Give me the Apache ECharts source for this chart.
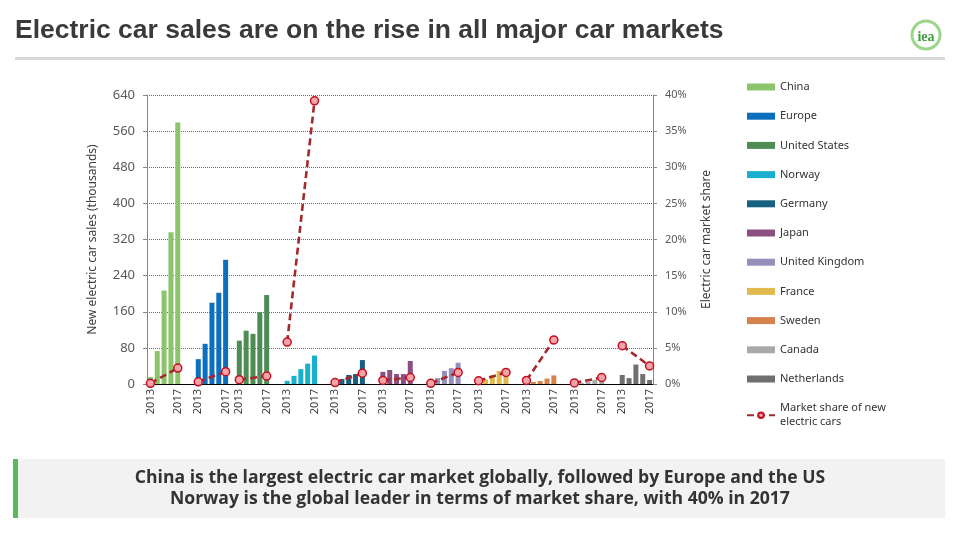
<!DOCTYPE html>
<html><head><meta charset="utf-8">
<script src="https://cdn.jsdelivr.net/npm/echarts@6/dist/echarts.min.js"></script>
<style>html,body{margin:0;padding:0;background:#fff}#c{width:960px;height:540px}</style>
</head><body><div id="c"></div>
<script>
// ---------- data ----------
const countries = ['China','Europe','United States','Norway','Germany','Japan','United Kingdom','France','Sweden','Canada','Netherlands'];
const years = ['2013','2014','2015','2016','2017'];
const shareYears = ['2013','2017'];
// new electric car sales (thousands), 2013..2017
const salesChina       = [15, 73, 207, 336, 579];
const salesEurope      = [55, 89, 180, 202, 275];
const salesUS          = [96, 118, 111, 159, 197];
const salesNorway      = [7, 18, 33, 45, 63];
const salesGermany     = [6, 11, 20, 22, 53];
const salesJapan       = [27, 31, 22, 22, 51];
const salesUK          = [4, 13, 29, 35, 47];
const salesFrance      = [9, 10, 19, 29, 31];
const salesSweden      = [1.5, 4.6, 6.6, 12, 19];
const salesCanada      = [1.7, 2.6, 5, 9, 15];
const salesNetherlands = [20, 13, 43, 22, 9];
// market share (%), 2013 and 2017
const shareChina       = [0.1, 2.2];
const shareEurope      = [0.3, 1.7];
const shareUS          = [0.6, 1.1];
const shareNorway      = [5.8, 39.2];
const shareGermany     = [0.2, 1.5];
const shareJapan       = [0.5, 0.9];
const shareUK          = [0.1, 1.6];
const shareFrance      = [0.45, 1.6];
const shareSweden      = [0.5, 6.1];
const shareCanada      = [0.15, 0.9];
const shareNetherlands = [5.3, 2.5];
const shareName = 'Market share of new electric cars';

// ---------- layout / style ----------
const gapAfter = [2,1,2,2,2,2,2,2,2,2];
const colors = ['#8cc46b','#0b6fbd','#4e8b55','#1aaecf','#17607f','#8b4f80','#9490bb','#e2b94f','#d5824f','#a9a9a9','#6f6f6f'];
const allSales = [salesChina,salesEurope,salesUS,salesNorway,salesGermany,salesJapan,salesUK,salesFrance,salesSweden,salesCanada,salesNetherlands];
const allShare = [shareChina,shareEurope,shareUS,shareNorway,shareGermany,shareJapan,shareUK,shareFrance,shareSweden,shareCanada,shareNetherlands];

const categories = [];
countries.forEach((c, i) => {
  years.forEach(y => categories.push(c + '|' + y));
  if (i < gapAfter.length) for (let k = 0; k < gapAfter[i]; k++) categories.push('gap' + i + '_' + k);
});

const font = 'Noto Sans';
const series = [];
countries.forEach((c, i) => {
  series.push({
    name: c, type: 'bar', stack: 'sales', barWidth: 5,
    itemStyle: { color: colors[i] },
    data: categories.map(k => {
      const p = k.split('|');
      return p[0] === c ? allSales[i][years.indexOf(p[1])] : null;
    })
  });
});
countries.forEach((c, i) => {
  series.push({
    name: shareName, type: 'line', yAxisIndex: 1, connectNulls: true, z: 5,
    symbol: 'circle', symbolSize: 8,
    lineStyle: { color: '#a3292f', width: 2.6, type: [7, 4] },
    itemStyle: { color: '#f5a3aa', borderColor: '#c0101e', borderWidth: 1.5 },
    data: categories.map(k => {
      const p = k.split('|');
      if (p[0] !== c) return null;
      const j = shareYears.indexOf(p[1]);
      return j >= 0 ? allShare[i][j] : null;
    })
  });
});

const chart = echarts.init(document.getElementById('c'));
chart.setOption({
  animation: false,
  backgroundColor: '#ffffff',
  title: {
    text: 'Electric car sales are on the rise in all major car markets',
    left: 15, top: 17, padding: 0,
    textStyle: { fontFamily: 'Liberation Sans', fontSize: 26.5, fontWeight: 'bold', color: '#3a3a3a' }
  },
  grid: { left: 147, right: 307, top: 95, bottom: 156 },
  legend: {
    orient: 'vertical', left: 741, top: 75,
    itemWidth: 28, itemHeight: 7, itemGap: 15.2,
    data: countries.map(c => ({ name: c, icon: 'rect' })).concat([{ name: shareName }]),
    formatter: n => n === shareName ? 'Market share of new\nelectric cars' : n,
    textStyle: { fontFamily: font, fontSize: 11, color: '#333', lineHeight: 14 }
  },
  xAxis: {
    type: 'category', data: categories,
    axisLine: { lineStyle: { color: '#000', width: 1 } },
    axisTick: { show: false },
    axisLabel: {
      interval: 0, rotate: 90, margin: 5,
      fontFamily: font, fontSize: 11, color: '#404040',
      formatter: v => { const p = v.split('|'); return (p[1] === '2013' || p[1] === '2017') ? p[1] : ''; }
    }
  },
  yAxis: [{
    type: 'value', min: 0, max: 640, interval: 80,
    name: 'New electric car sales (thousands)', nameLocation: 'middle', nameGap: 48, nameRotate: 90,
    nameTextStyle: { fontFamily: font, fontSize: 12, color: '#404040' },
    axisLine: { show: true, lineStyle: { color: '#868686' } },
    axisTick: { show: true, length: 4, lineStyle: { color: '#868686' } },
    axisLabel: { fontFamily: font, fontSize: 13, color: '#595959', margin: 12 },
    splitLine: { lineStyle: { color: '#6a6a6a', type: 'dotted', width: 1 } }
  }, {
    type: 'value', min: 0, max: 40, interval: 5, position: 'right',
    name: 'Electric car market share', nameLocation: 'middle', nameGap: 48, nameRotate: 90,
    nameTextStyle: { fontFamily: font, fontSize: 12, color: '#404040' },
    axisLine: { show: true, lineStyle: { color: '#868686' } },
    axisTick: { show: true, length: 4, lineStyle: { color: '#868686' } },
    axisLabel: { fontFamily: font, fontSize: 11, color: '#595959', margin: 12, formatter: '{value}%' },
    splitLine: { show: false }
  }],
  graphic: [
    { type: 'rect', shape: { x: 15, y: 57, width: 930, height: 3 }, style: { fill: '#d9d9d9' } },
    { type: 'circle', shape: { cx: 926, cy: 35, r: 14 }, style: { fill: 'none', stroke: '#9bd68a', lineWidth: 3 } },
    { type: 'text', x: 926, y: 37, style: { text: 'iea', fill: '#3f9f3a', font: 'bold 14px "Liberation Serif"', textAlign: 'center', textVerticalAlign: 'middle' } },
    { type: 'rect', shape: { x: 13, y: 459, width: 932, height: 59 }, style: { fill: '#f2f2f2' } },
    { type: 'rect', shape: { x: 13, y: 459, width: 5, height: 59 }, style: { fill: '#5cb85c' } },
    { type: 'text', x: 480, y: 478, style: { text: 'China is the largest electric car market globally, followed by Europe and the US', fill: '#333', font: 'bold 17.6px "Open Sans"', textAlign: 'center', textVerticalAlign: 'middle' } },
    { type: 'text', x: 480, y: 499, style: { text: 'Norway is the global leader in terms of market share, with 40% in 2017', fill: '#333', font: 'bold 17.6px "Open Sans"', textAlign: 'center', textVerticalAlign: 'middle' } }
  ],
  series: series
});
</script>
</body></html>
